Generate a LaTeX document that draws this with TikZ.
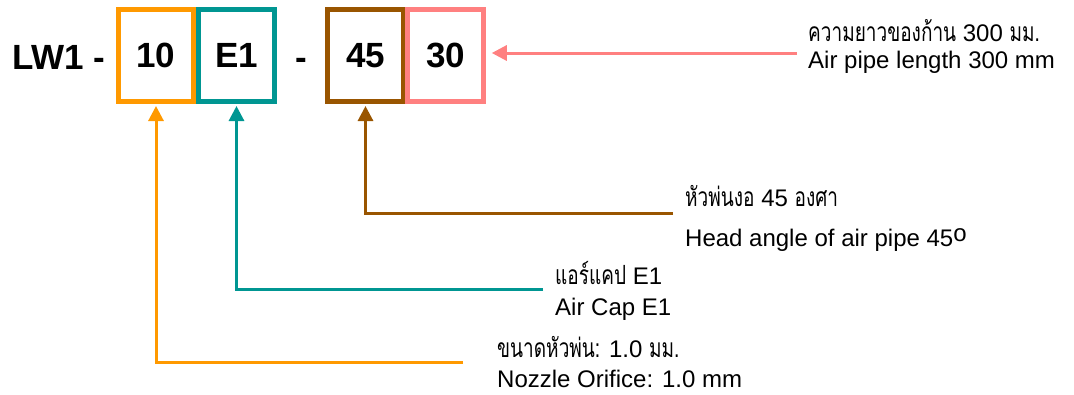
\documentclass[tikz,border=0pt]{standalone}
\usepackage{fontspec}
\setmainfont{Liberation Sans}
\newfontfamily\thaifont[Script=Thai, Scale=1.1, FakeStretch=0.72]{Loma}
\usetikzlibrary{arrows.meta}
\definecolor{corange}{RGB}{255,153,0}
\definecolor{cteal}{RGB}{0,150,146}
\definecolor{cbrown}{RGB}{153,85,0}
\definecolor{csalmon}{RGB}{255,128,128}
\begin{document}
\begin{tikzpicture}[x=1pt,y=-1pt,
  codebox/.style={draw=#1, line width=5pt, minimum width=75.5pt, minimum height=92pt, inner sep=0pt, font=\fontsize{35}{35}\selectfont\bfseries},
  big/.style={inner sep=0pt, font=\fontsize{35}{35}\selectfont\bfseries},
  lbl/.style={inner sep=0pt, anchor=base west, font=\fontsize{24}{24}\selectfont},
  thlbl/.style={lbl, text depth=0pt},
  conn/.style={draw=#1, line width=3pt, -{Triangle[width=15pt,length=15pt]}, shorten >=2pt},
]
\useasboundingbox (0,0) rectangle (1074,394);
\node[big, anchor=base west] (lw) at (12,69) {LW1 -};
\node[codebox=corange] (b10) at (156,55.5) {10};
\node[codebox=cteal] (bE1) at (236.5,55.5) {E1};
\node[big, anchor=base] (dash) at (301,69) {-};
\node[codebox=cbrown] (b45) at (365.5,55.5) {45};
\node[codebox=csalmon] (b30) at (445.5,55.5) {30};

\coordinate (c10) at (463,362);
\coordinate (cE1) at (543,289);
\coordinate (c45) at (673,213);
\coordinate (c30) at (797,53);
\draw[conn=corange] (c10) -| (b10.south);
\draw[conn=cteal] (cE1) -| (bE1.south);
\draw[conn=cbrown] (c45) -| (b45.south);
\draw[conn=csalmon, shorten >=6pt] (c30) -- (c30 -| b30.east);

\node[thlbl] (t30a) at (808,41) {{\thaifont ความยาวของก้าน} 300 {\thaifont มม.}};
\node[lbl] (t30b) at (808,68) {Air pipe length 300 mm};
\node[thlbl] (t45a) at (685,206) {{\thaifont หัวพ่นงอ} 45 {\thaifont องศา}};
\node[lbl] (t45b) at (685,246) {Head angle of air pipe 45\raisebox{5pt}{o}};
\node[thlbl] (tE1a) at (555,284) {{\thaifont แอร์แคป} E1};
\node[lbl] (tE1b) at (555,315) {Air Cap E1};
\node[thlbl] (t10a) at (497,357) {{\thaifont ขนาดหัวพ่น:} 1.0 {\thaifont มม.}};
\node[lbl] (t10b) at (497,387) {Nozzle Orifice: 1.0 mm};
\end{tikzpicture}
\end{document}
